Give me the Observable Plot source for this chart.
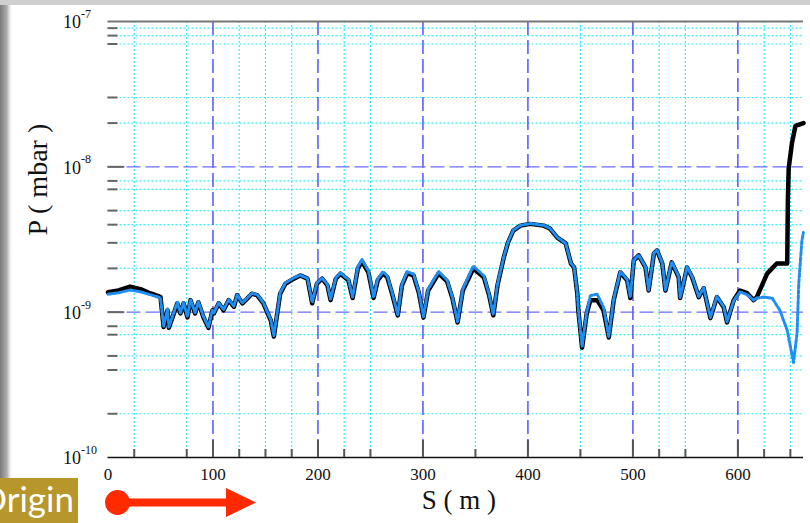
<!DOCTYPE html>
<html><head><meta charset="utf-8">
<script src="https://cdn.jsdelivr.net/npm/d3@7"></script>
<script src="https://cdn.jsdelivr.net/npm/@observablehq/plot@0.6"></script>
<style>
body{margin:0;background:#fff;}
#wrap{position:relative;width:810px;height:523px;overflow:hidden;background:#fff;}
#deco{position:absolute;left:0;top:0;pointer-events:none;}
</style>
</head><body>
<div id="wrap"></div>
<script>
// S (m) positions and pressure in units of 1e-9 mbar
const blackS = [0,10,21,31,40,48,
  50,53,56.7,58,61.4,66,69,72,75.7,78.6,83,86,91,95.7,99.5,
  100.8,105.5,110,115,120,123,128,132.6,137,142,148,155,158,
  164,169,177,183,190,194.5,199,204,209,212,217,221.4,229,233,
  238,242,248,253,257,262,266,271,276,280,285,291,296,300.5,
  305,315,323,328,333,338,348,358,363,367,371,377,381,386,393,402,415,421,428,436,441,444,447,448,451.6,
  456,459.5,466,472,477,481.7,488,494.5,497.6,500.8,505.5,512,515,520,523,528,531,537,543.6,545,551.6,556.4,562.7,567.4,573.8,580,586.5,589.7,596,602,608.8,615,618,628,637,647,647.6,648.4,651.6,654.8,662.5];
const blackP = [1.37,1.41,1.50,1.44,1.35,1.29,
  1.27,0.79,1.03,0.78,0.92,1.15,0.98,1.15,0.92,1.21,0.98,1.17,0.92,0.78,1.03,
  0.98,1.15,1.03,1.21,1.09,1.31,1.15,1.24,1.34,1.31,1.15,0.88,0.68,
  1.34,1.57,1.70,1.79,1.70,1.15,1.57,1.70,1.53,1.21,1.70,1.84,1.66,1.25,
  2.0,2.23,1.88,1.25,1.66,1.85,1.74,1.31,0.95,1.53,1.85,1.79,1.37,0.92,
  1.41,1.85,1.63,1.25,0.85,1.41,2.0,1.74,1.31,0.95,1.53,2.38,3.01,3.64,3.94,4.05,3.94,3.76,3.26,2.97,2.16,2.03,1.35,1.03,0.57,
  0.98,1.21,1.21,1.03,0.67,1.21,1.88,1.66,1.25,2.27,2.46,2.03,1.41,2.53,2.66,2.16,1.41,2.20,1.74,1.25,2.03,1.74,1.27,1.46,0.91,1.27,1.08,0.85,1.21,1.41,1.35,1.21,1.27,1.85,2.16,2.16,5.85,9.8,14.7,19.1,20.0];

const blueS = [0,10,21,31,40,48,
  50,53,56.7,58,61.4,66,69,72,75.7,78.6,83,86,91,95.7,99.5,
  100.8,105.5,110,115,120,123,128,132.6,137,142,148,155,158,
  164,169,177,183,190,194.5,199,204,209,212,217,221.4,229,233,
  238,242,248,253,257,262,266,271,276,280,285,291,296,300.5,
  305,315,323,328,333,338,348,358,363,367,371,377,381,386,393,402,415,421,428,436,441,444,447,448,451.6,
  456,459.5,466,472,477,481.7,488,494.5,497.6,500.8,505.5,512,515,520,523,528,531,537,543.6,545,551.6,556.4,562.7,567.4,573.8,580,586.5,589.7,596,602,608.8,615,618,624.5,632.6,640,647,653,656.4,658,661,662.4];
const blueP = [1.33,1.36,1.42,1.38,1.32,1.27,
  1.25,0.80,1.05,0.79,0.93,1.17,0.99,1.16,0.93,1.22,0.99,1.18,0.93,0.79,1.04,
  0.99,1.16,1.04,1.22,1.10,1.32,1.16,1.25,1.35,1.32,1.16,0.89,0.69,
  1.36,1.59,1.72,1.80,1.71,1.17,1.59,1.72,1.55,1.23,1.72,1.86,1.68,1.27,
  2.05,2.30,1.93,1.27,1.70,1.90,1.78,1.33,0.96,1.56,1.90,1.83,1.39,0.93,
  1.44,1.90,1.66,1.27,0.86,1.44,2.08,1.78,1.33,0.96,1.56,2.40,3.03,3.66,3.96,4.07,3.96,3.78,3.27,2.98,2.17,2.04,1.36,1.04,0.58,
  1.00,1.30,1.33,1.08,0.68,1.23,1.90,1.68,1.27,2.28,2.47,2.05,1.42,2.55,2.68,2.18,1.42,2.22,1.76,1.26,2.05,1.76,1.28,1.47,0.92,1.28,1.09,0.86,1.20,1.38,1.32,1.21,1.25,1.27,1.25,1.03,0.75,0.45,0.72,1.58,3.11,3.53];

const majorS = [0,100,200,300,400,500,600];
const minorS = [25,75,125,150,175,225,250,350,450,525,550,625,650];
const majorP = [1e-10,1e-9,1e-8,1e-7];
const minorP = [2e-10,4e-10,5e-10,7e-10,8e-10,2e-9,3e-9,4e-9,5e-9,7e-9,8e-9,2e-8,3e-8,7e-8,8e-8,9e-8];

const black = blackS.map((s,i)=>({S:s, P:blackP[i]*1e-9}));
const blue = blueS.map((s,i)=>({S:s, P:blueP[i]*1e-9}));

const cyan = "#30f0ff";
const innerMajorS = majorS.filter(d=>d>0);
const innerMajorP = [1e-9,1e-8];

const plot = Plot.plot({
  width: 810, height: 523,
  marginLeft: 107.5, marginRight: 7, marginTop: 21, marginBottom: 66,
  style: {background: "transparent", fontFamily: "'Liberation Serif', 'Times New Roman', serif", color: "#111"},
  x: {domain: [0, 662.5], axis: null},
  y: {type: "log", domain: [1e-10, 1e-7], axis: null},
  marks: [
    Plot.ruleX(minorS, {x: d=>d, stroke: cyan, strokeWidth: 1.2, strokeDasharray: "2,2"}),
    Plot.ruleY(minorP, {y: d=>d, stroke: cyan, strokeWidth: 1.2, strokeDasharray: "2,2"}),
    Plot.ruleX(innerMajorS, {x: d=>d, stroke: "#4848ff", strokeWidth: 1.4, strokeDasharray: "14,5"}),
    Plot.ruleY(innerMajorP, {y: d=>d, stroke: "#6a6aff", strokeWidth: 1.4, strokeDasharray: "14,5"}),
    Plot.ruleY([1e-7], {y: d=>d, stroke: "#777", strokeWidth: 2}),
    Plot.ruleY([1e-10], {y: d=>d, stroke: "#111", strokeWidth: 1.5}),
    Plot.ruleY(innerMajorP, {y: d=>d, x1: 0, x2: 16, stroke: "#666", strokeWidth: 2}),
    Plot.ruleY(minorP, {y: d=>d, x1: 0, x2: 9.5, stroke: "#666", strokeWidth: 2}),
    Plot.ruleX(innerMajorS, {x: d=>d, y1: 1e-10, y2: 1.31e-10, stroke: "#555", strokeWidth: 2}),
    Plot.ruleX(minorS, {x: d=>d, y1: 1e-10, y2: 1.135e-10, stroke: "#555", strokeWidth: 2}),
    Plot.line(black, {x: "S", y: "P", stroke: "#000", strokeWidth: 4.5, strokeLinejoin: "round", strokeLinecap: "round"}),
    Plot.line(blue, {x: "S", y: "P", stroke: "#1e8ef2", strokeWidth: 3, strokeDasharray: "3.5,2", strokeLinejoin: "round"}),
    Plot.text(majorP, {y: d=>d, frameAnchor: "left", text: d=>"10", textAnchor: "end", dx: -27, dy: 1, fontSize: 18}),
    Plot.text(majorP, {y: d=>d, frameAnchor: "left", text: d=>String(Math.round(Math.log10(d))), textAnchor: "start", dx: -27, dy: -7.5, fontSize: 12}),
    Plot.text(majorS, {x: d=>d, frameAnchor: "bottom", text: d=>String(d), dy: 22, fontSize: 17}),
    Plot.text(["S ( m )"], {frameAnchor: "bottom", text: d=>d, dy: 51, dx: 3, fontSize: 27}),
    Plot.text(["P ( mbar )"], {frameAnchor: "left", text: d=>d, dx: -70, dy: -4, rotate: -90, fontSize: 28})
  ]
});
document.getElementById("wrap").appendChild(plot);

const deco = `<svg id="deco" width="810" height="523" xmlns="http://www.w3.org/2000/svg">
  <defs><linearGradient id="lg" x1="0" x2="1" y1="0" y2="0">
    <stop offset="0" stop-color="#7a7a7a"/><stop offset="0.55" stop-color="#b0b0b0"/><stop offset="1" stop-color="#ffffff" stop-opacity="0"/>
  </linearGradient></defs>
  <rect x="0" y="0" width="13" height="523" fill="url(#lg)"/>
  <rect x="0" y="0" width="810" height="5" fill="#cfcfcf"/>
  <rect x="0" y="478" width="78" height="45" fill="#b7962c"/>
  <text x="74" y="512" text-anchor="end" fill="#fff" font-family="Lato, 'DejaVu Sans', sans-serif" font-size="35">Origin</text>
  <circle cx="117.5" cy="502.5" r="12.5" fill="#ff2a00"/>
  <line x1="117" y1="502.5" x2="230" y2="502.5" stroke="#ff2a00" stroke-width="8"/>
  <polygon points="226,488 256,502.5 226,517" fill="#ff2a00"/>
</svg>`;
document.getElementById("wrap").insertAdjacentHTML("beforeend", deco);
</script>
</body></html>
